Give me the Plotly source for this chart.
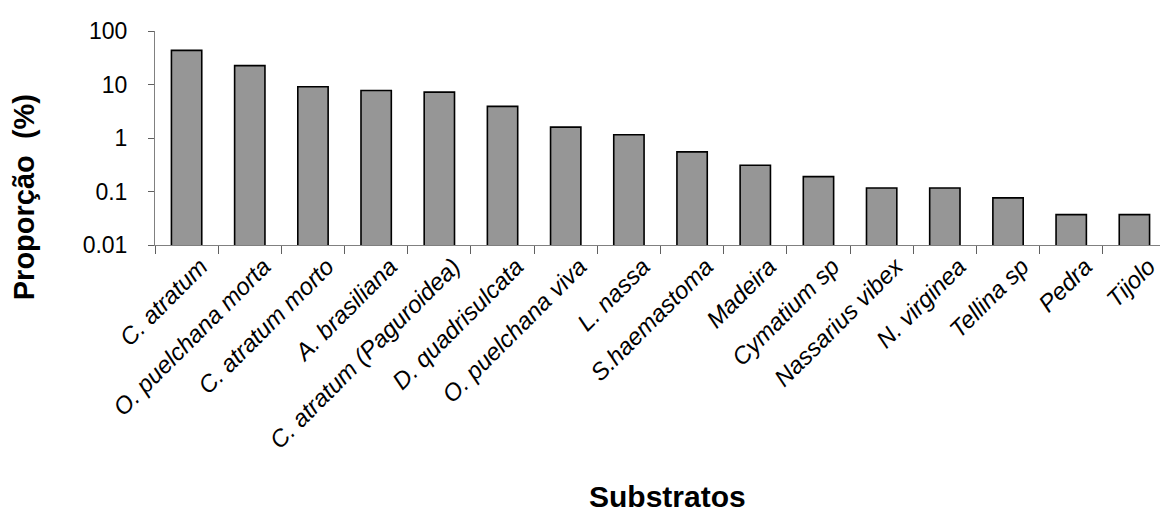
import plotly.graph_objects as go

categories = [
    "C. atratum", "O. puelchana morta", "C. atratum morto", "A. brasiliana",
    "C. atratum (Paguroidea)", "D. quadrisulcata", "O. puelchana viva", "L. nassa",
    "S.haemastoma", "Madeira", "Cymatium sp", "Nassarius vibex", "N. virginea",
    "Tellina sp", "Pedra", "Tijolo",
]
values = [43.5, 22.5, 9.1, 7.7, 7.2, 3.9, 1.6, 1.15, 0.55, 0.31, 0.19, 0.116, 0.116, 0.076, 0.037, 0.037]
y_tickvals = [0.01, 0.1, 1, 10, 100]
y_ticktext = ["0.01", "0.1", "1", "10", "100"]

FONT = "Liberation Sans, Arial, sans-serif"

W, H = 1168, 528
L, R, T, B = 147, 10, 13, 291
PW, PH = W - L - R, H - T - B

fig = go.Figure(go.Bar(
    x=categories,
    y=values,
    marker=dict(color="#969696", line=dict(color="black", width=1.6)),
))

fig.update_layout(
    width=W, height=H,
    margin=dict(l=L, r=R, t=T, b=B),
    paper_bgcolor="white", plot_bgcolor="white",
    bargap=0.52,
    showlegend=False,
    font=dict(family=FONT, color="black"),
)

fig.update_xaxes(
    type="category",
    tickmode="array",
    tickvals=categories,
    ticktext=["<i>%s</i>" % c for c in categories],
    tickangle=-45,
    tickson="boundaries",
    ticks="outside", ticklen=8, tickcolor="#606060",
    ticklabelshift=14, ticklabelstandoff=-3,
    showline=True, linecolor="#808080", linewidth=1,
    showgrid=False,
    tickfont=dict(family=FONT, size=24, color="black"),
    range=[-0.5, len(categories) - 0.5],
)

fig.update_yaxes(
    type="log",
    range=[-2, 2],
    tickmode="array",
    tickvals=y_tickvals,
    ticktext=y_ticktext,
    ticks="outside", ticklen=6, tickcolor="#606060",
    ticklabelstandoff=16,
    showline=True, linecolor="#808080", linewidth=1,
    showgrid=False, zeroline=False,
    tickfont=dict(family=FONT, size=23, color="black"),
)

def px_x(px):
    return (px - L) / PW

def px_y(py):
    return (H - B - py) / PH

fig.add_annotation(
    text="<b>Proporção  (%)</b>", textangle=-90,
    xref="paper", yref="paper",
    x=px_x(16), y=px_y(187),
    showarrow=False, xanchor="center", yanchor="middle",
    font=dict(family=FONT, size=29, color="black"),
)
fig.add_annotation(
    text="<b>Substratos</b>",
    xref="paper", yref="paper",
    x=px_x(659), y=px_y(500),
    showarrow=False, xanchor="center", yanchor="middle",
    font=dict(family=FONT, size=30, color="black"),
)

fig.write_html("out.html")
